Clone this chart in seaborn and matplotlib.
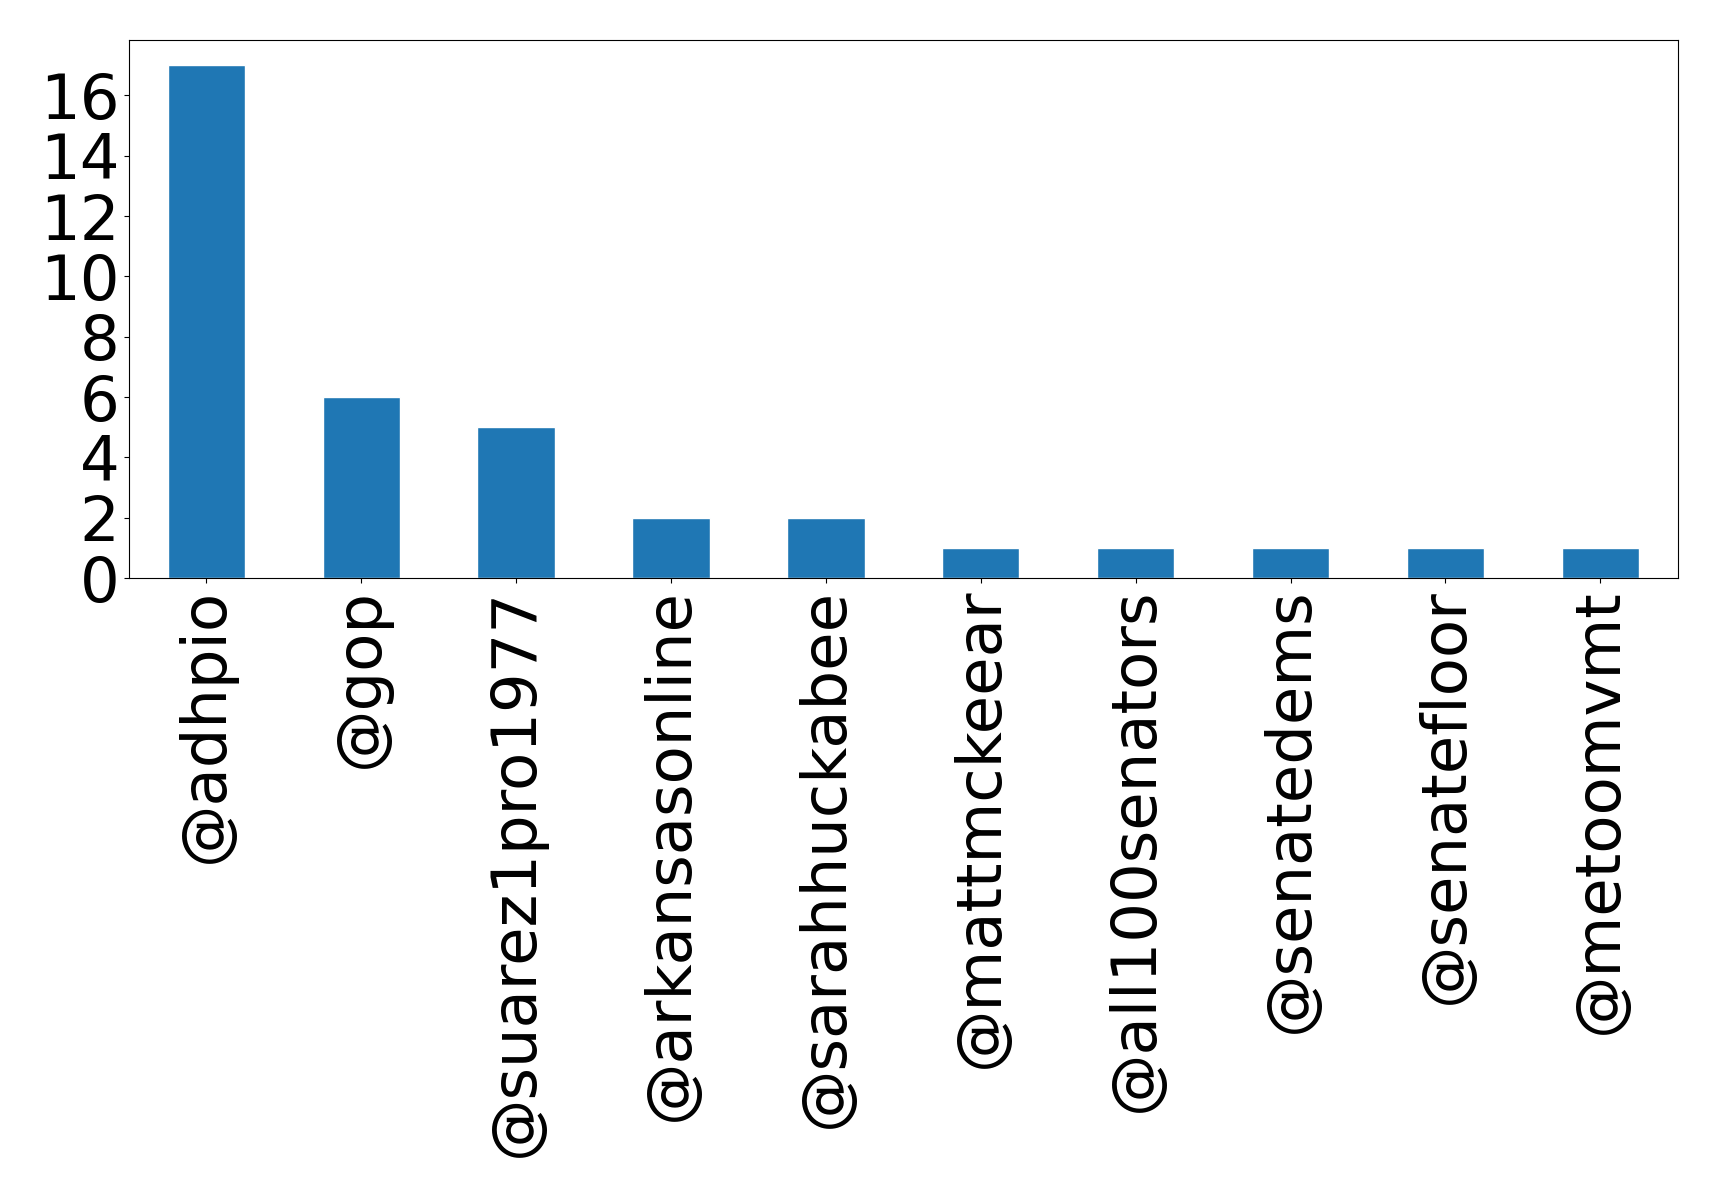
import matplotlib
matplotlib.use("Agg")
import matplotlib.pyplot as plt
import seaborn as sns
import pandas as pd

handles = ["@adhpio", "@gop", "@suarez1pro1977", "@arkansasonline", "@sarahhuckabee",
           "@mattmckeear", "@all100senators", "@senatedems", "@senatefloor", "@metoomvmt"]
counts = [17, 6, 5, 2, 2, 1, 1, 1, 1, 1]

df = pd.DataFrame({"handle": handles, "count": counts})

sns.set_style("ticks")
plt.rcParams["font.family"] = ["DejaVu Sans"]

fig = plt.figure(figsize=(17.19, 11.97), dpi=100)
ax = fig.add_axes([0.075, 0.517, 0.901, 0.450])
sns.barplot(data=df, x="handle", y="count", color="#1f77b4", saturation=1,
            width=0.5, ax=ax)
ax.set_xlim(-0.5, 9.5)
ax.set_ylim(0, 17.85)
ax.set_yticks([0, 2, 4, 6, 8, 10, 12, 14, 16])
ax.set_xlabel("")
ax.set_ylabel("")
ax.tick_params(axis="both", labelsize=45, length=3.5, width=0.8, colors="black")
plt.setp(ax.get_xticklabels(), rotation=90)
for s in ax.spines.values():
    s.set_visible(True)
    s.set_color("black")
    s.set_linewidth(0.8)
fig.savefig("out.png", dpi=100)
